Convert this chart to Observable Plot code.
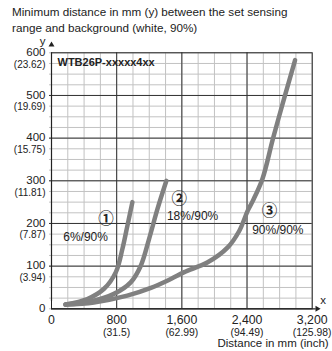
<!DOCTYPE html>
<html><head><meta charset="utf-8">
<script src="https://cdn.jsdelivr.net/npm/d3@7"></script>
<script src="https://cdn.jsdelivr.net/npm/@observablehq/plot@0.6"></script>
<style>
body{margin:0;background:#fff;font-family:"Liberation Sans",Arial,sans-serif;color:#222;width:332px;height:351px;overflow:hidden}
#title{padding:4px 0 0 12px;height:32px;font-size:11.7px;line-height:16px;white-space:nowrap}
#chart svg{display:block}
</style></head>
<body>
<div id="title">Minimum distance in mm (y) between the set sensing<br>range and background (white, 90%)</div>
<div id="chart"></div>
<script>
// tick values and labels
const xTicks = [0, 800, 1600, 2400, 3200];
const xTickLabels = ["0", "800", "1,600", "2,400", "3,200"];
const xInchLabels = ["", "(31.5)", "(62.99)", "(94.49)", "(125.98)"];
const yTicks = [0, 100, 200, 300, 400, 500, 600];
const yTickLabels = ["0", "100", "200", "300", "400", "500", "600"];
const yInchLabels = ["", "(3.94)", "(7.87)", "(11.81)", "(15.75)", "(19.69)", "(23.62)"];
const xMinor = d3.range(0, 3201, 200);
const yMinor = d3.range(0, 601, 25);
const xMajor = [800, 1600, 2400];
const yMajor = [100, 200, 300, 400, 500];

// curves (distance mm, min distance mm)
const curve1X = [172, 440, 645, 790, 870, 932, 993];
const curve1Y = [10, 23, 47, 86, 140, 195, 250];
const curve2X = [172, 480, 767, 972, 1096, 1198, 1301, 1410];
const curve2Y = [10, 17, 35, 62, 101, 164, 234, 300];
const curve3X = [172, 520, 930, 1220, 1465, 1630, 1917, 2163, 2306, 2409, 2471, 2590, 2720, 2866, 2990];
const curve3Y = [10, 15, 31, 49, 70, 86, 109, 144, 183, 230, 253, 305, 400, 500, 583];

// annotations
const markerText = ["①", "②", "③"];
const markerX = [668, 1567, 2675];
const markerY = [211, 257, 228];
const ratioText = ["6%/90%", "18%/90%", "90%/90%"];
const ratioX = [418, 1732, 2778];
const ratioY = [168, 218, 185];
const modelName = "WTB26P-xxxxx4xx";

const toPts = (xs, ys, id) => xs.map((x, i) => ({x, y: ys[i], id}));
const curves = [...toPts(curve1X, curve1Y, 1), ...toPts(curve2X, curve2Y, 2), ...toPts(curve3X, curve3Y, 3)];
const xT = xTicks.map((v, i) => ({v, l: xTickLabels[i], inch: xInchLabels[i]}));
const yT = yTicks.map((v, i) => ({v, l: yTickLabels[i], inch: yInchLabels[i]}));
const markers = markerText.map((t, i) => ({t, x: markerX[i], y: markerY[i]}));
const ratios = ratioText.map((t, i) => ({t, x: ratioX[i], y: ratioY[i]}));

const ink = "#222";
const chart = Plot.plot({
  width: 332,
  height: 315,
  marginTop: 16.3,
  marginBottom: 42.7,
  marginLeft: 51,
  marginRight: 20.3,
  style: {fontFamily: '"Liberation Sans", Arial, sans-serif', color: ink, background: "white"},
  x: {domain: [0, 3200], axis: null},
  y: {domain: [0, 600], axis: null},
  marks: [
    Plot.ruleX(xMinor, {y1: 0, y2: 600, stroke: "#c2c2c2", strokeWidth: 1}),
    Plot.ruleY(yMinor, {x1: 0, x2: 3200, stroke: "#c2c2c2", strokeWidth: 1, insetLeft: -2}),
    Plot.ruleX(xMajor, {y1: 0, y2: 600, stroke: "#333", strokeWidth: 1}),
    Plot.ruleY(yMajor, {x1: 0, x2: 3200, stroke: "#333", strokeWidth: 1, insetLeft: -2}),
    Plot.frame({stroke: ink, strokeWidth: 1}),
    Plot.ruleX([0], {y1: 0, y2: 600, stroke: ink, strokeWidth: 1.2, insetTop: -7}),
    Plot.ruleY([0], {x1: 0, x2: 3200, stroke: ink, strokeWidth: 1.2, insetRight: -4}),
    Plot.dot([0], {x: 0, y: 600, dy: -8, symbol: "triangle", r: 2.2, fill: ink, stroke: null}),
    Plot.dot([0], {x: 3200, y: 0, dx: 5, symbol: "triangle", rotate: 90, r: 2.2, fill: ink, stroke: null}),
    Plot.text(["y"], {x: 0, y: 600, dx: -9, dy: -11, text: d => d, fontSize: 11.5, fill: ink}),
    Plot.text(["x"], {x: 3200, y: 0, dx: 11, dy: -8, text: d => d, fontSize: 11.5, fill: ink}),
    // labels with white boxes
    Plot.text([modelName], {x: 0, y: 600, dx: 6, dy: 9.5, text: d => d, textAnchor: "start", fontWeight: "bold", fontSize: 11, fill: ink, ariaLabel: "boxed"}),
    Plot.text(ratios, {x: "x", y: "y", text: "t", fontSize: 12, fill: ink, ariaLabel: "boxed"}),
    Plot.text(markers, {x: "x", y: "y", text: "t", fontSize: 15.5, fontWeight: "bold", fontFamily: '"Noto Sans CJK JP"', fill: ink, ariaLabel: "boxed"}),
    // curves
    Plot.line(curves, {x: "x", y: "y", z: "id", curve: "catmull-rom", stroke: "#808080", strokeWidth: 4.5, strokeLinecap: "round", strokeLinejoin: "round"}),
    // y tick labels
    Plot.text(yT, {x: 0, y: "v", text: "l", dx: -6, dy: -0.5, textAnchor: "end", fontSize: 11.5, fill: ink}),
    Plot.text(yT, {x: 0, y: "v", text: "inch", dx: -6, dy: 11.5, textAnchor: "end", fontSize: 10, fill: ink}),
    // x tick labels
    Plot.text(xT, {x: "v", y: 0, text: "l", dy: 11, fontSize: 12.3, fill: ink}),
    Plot.text(xT, {x: "v", y: 0, text: "inch", dy: 23.5, fontSize: 10.4, fill: ink}),
    Plot.text(["Distance in mm (inch)"], {x: 3200, y: 0, dx: 16.5, dy: 35, text: d => d, textAnchor: "end", fontSize: 11.5, fill: ink})
  ]
});
document.getElementById("chart").append(chart);

// white background boxes behind boxed labels
chart.querySelectorAll('g[aria-label="boxed"] text').forEach(t => {
  const b = t.getBBox();
  const r = document.createElementNS("http://www.w3.org/2000/svg", "rect");
  const px = 3, py = 1.5;
  r.setAttribute("x", b.x - px);
  r.setAttribute("y", b.y - py);
  r.setAttribute("width", b.width + 2 * px);
  r.setAttribute("height", b.height + 2 * py);
  r.setAttribute("fill", "white");
  r.setAttribute("stroke", "none");
  const tr = t.getAttribute("transform");
  if (tr) r.setAttribute("transform", tr);
  t.parentNode.insertBefore(r, t);
});
</script>
</body></html>
